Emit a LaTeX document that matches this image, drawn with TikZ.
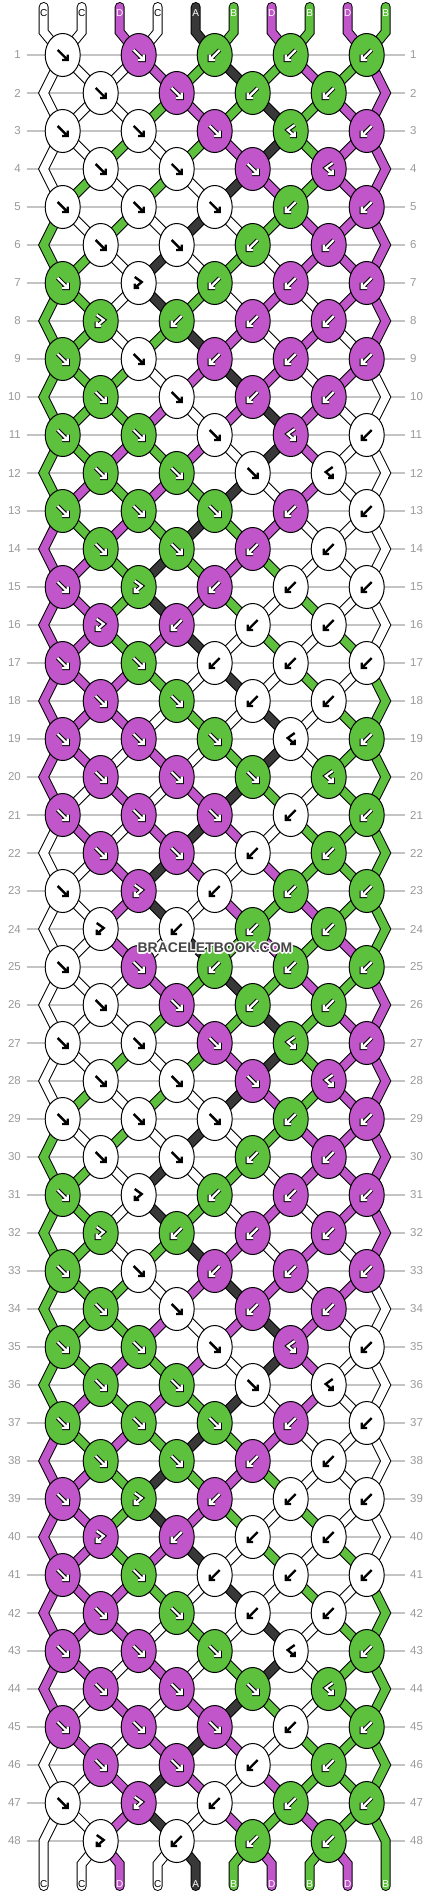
\documentclass[tikz,border=0pt]{standalone}
\usepackage{fontspec}
\setmainfont{Liberation Sans}
\usetikzlibrary{shapes.geometric}

\definecolor{strA}{HTML}{383838}
\definecolor{strB}{HTML}{5EC13D}
\definecolor{strC}{HTML}{FFFFFF}
\definecolor{strD}{HTML}{C056C9}
\colorlet{txtA}{white}
\colorlet{txtB}{white}
\colorlet{txtC}{black}
\colorlet{txtD}{white}
\definecolor{rowgray}{HTML}{C4C4C4}
\definecolor{numgray}{HTML}{9A9A9A}
\definecolor{markgray}{HTML}{464646}

\tikzset{
  knot/.style={ellipse, draw=black, line width=1pt, minimum width=35pt,
    minimum height=43pt, inner sep=0pt},
  thread rim/.style={draw=black, line width=10pt, line cap=round, line join=miter},
  thread core/.style={draw=#1, line width=8pt, line cap=round, line join=miter},
  arrow dark/.style={draw=black, line width=2.4pt, line cap=square, line join=miter},
  arrow rim/.style={draw=black, line width=4.2pt, line cap=square, line join=miter},
  arrow light/.style={draw=white, line width=2.2pt, line cap=square, line join=miter},
  strand tag/.style={font=\fontsize{10}{10}\selectfont, inner sep=0pt, text=txt#1},
  rownum/.style={font=\fontsize{11.5}{12}\selectfont, text=numgray, inner sep=0pt},
  rowline/.style={draw=rowgray, line width=1.2pt},
  mark font/.style={font=\bfseries\fontsize{14}{14}\selectfont, inner sep=0pt}
}

% colour and path source of every strand position
\newcommand\setcol[2]{\expandafter\xdef\csname thcol#1\endcsname{#2}}
\newcommand\getcol[1]{\csname thcol#1\endcsname}
\newcommand\setsrc[2]{\expandafter\xdef\csname thsrc#1\endcsname{#2}}
\newcommand\getsrc[1]{\csname thsrc#1\endcsname}

\newcommand\drawthread[2]{%
  \draw[thread rim] #2;
  \draw[thread core=str#1] #2;}

% knot types of the eight repeating rows
% F forward, B backward, Y forward-backward, X backward-forward
\def\rowtypes{1/{F,F,B,B,B},2/{F,F,B,B},3/{F,F,F,X,B},4/{F,F,F,X},
  5/{F,F,F,B,B},6/{F,F,B,B},7/{F,Y,B,B,B},8/{Y,B,B,B}}

\def\arrF{(-5,-5) -- (5,5) (5,-0.5) -- (5,5) -- (-0.5,5)}
\def\arrB{(5,-5) -- (-5,5) (-5,-0.5) -- (-5,5) -- (0.5,5)}
\def\arrY{(-4,-6) -- (3,-1) -- (-4,5) (-4,0.5) -- (-4,5) -- (0.5,5)}
\def\arrX{(4,-6) -- (-3,-1) -- (4,5) (4,0.5) -- (4,5) -- (-0.5,5)}

\newcommand\knotarrow[3]{%
  \edef\apath{\csname arr#1\endcsname}%
  \if#2C%
    \edef\tmp{\noexpand\draw[arrow dark, shift={(#3)}] \apath;}\tmp
  \else
    \edef\tmp{\noexpand\draw[arrow rim, shift={(#3)}] \apath;
      \noexpand\draw[arrow light, shift={(#3)}] \apath;}\tmp
  \fi}

\begin{document}
\begin{tikzpicture}[x=1pt, y=-1pt]
\useasboundingbox (0,0) rectangle (430,1896);
\fill[white] (0,0) rectangle (430,1896);

% row numbers and guide lines
\foreach \rw in {1,...,48}{
  \pgfmathsetmacro\yy{55+38*(\rw-1)}
  \node[rownum, anchor=east] (numL-\rw) at (21,\yy) {\rw};
  \node[rownum, anchor=west] (numR-\rw) at (410,\yy) {\rw};
  \draw[rowline] ([xshift=5.7pt]numL-\rw.east) -- ([xshift=-5pt]numR-\rw.west);
}

% strands at the top
\foreach \p/\tagc in {1/C,2/C,3/D,4/C,5/A,6/B,7/D,8/B,9/D,10/B}{
  \pgfmathsetmacro\xx{43.7+38*(\p-1)}
  \coordinate (top-\p) at (\xx,7);
  \coordinate (bend-\p) at (\xx,32);
  \setcol{\p}{\tagc}
  \setsrc{\p}{(top-\p) -- (bend-\p)}
}

% first pass: follow the strands, draw the threads
\foreach \rep in {0,...,5}{
  \foreach \m/\tlist in \rowtypes {
    \pgfmathtruncatemacro\rw{8*\rep+\m}
    \pgfmathtruncatemacro\off{1-mod(\m,2)}
    \pgfmathsetmacro\yy{55+38*(\rw-1)}
    \ifnum\off=1
      \coordinate (eL-\rw) at (43.7,\yy);
      \coordinate (eR-\rw) at (385.7,\yy);
      \setsrc{1}{\getsrc{1} -- (eL-\rw)}
      \setsrc{10}{\getsrc{10} -- (eR-\rw)}
    \fi
    \foreach \kt [count=\kk] in \tlist {
      \pgfmathtruncatemacro\pl{2*\kk-1+\off}
      \pgfmathtruncatemacro\pr{\pl+1}
      \pgfmathsetmacro\xx{62.7+38*(\pl-1)}
      \coordinate (kn-\rw-\kk) at (\xx,\yy);
      \edef\lc{\getcol{\pl}}\edef\rc{\getcol{\pr}}
      \if\kt F\edef\kc{\lc}\setcol{\pl}{\rc}\setcol{\pr}{\lc}\fi
      \if\kt B\edef\kc{\rc}\setcol{\pl}{\rc}\setcol{\pr}{\lc}\fi
      \if\kt X\edef\kc{\rc}\fi
      \if\kt Y\edef\kc{\lc}\fi
      \expandafter\xdef\csname kcol-\rw-\kk\endcsname{\kc}
      \edef\tmp{\noexpand\drawthread{\lc}{\getsrc{\pl} -- (kn-\rw-\kk)}%
        \noexpand\drawthread{\rc}{\getsrc{\pr} -- (kn-\rw-\kk)}}\tmp
      \setsrc{\pl}{(kn-\rw-\kk)}
      \setsrc{\pr}{(kn-\rw-\kk)}
    }
  }
}

% strands at the bottom
\foreach \p in {1,...,10}{
  \pgfmathsetmacro\xx{43.7+38*(\p-1)}
  \coordinate (heel-\p) at (\xx,1864);
  \coordinate (foot-\p) at (\xx,1886);
  \edef\lc{\getcol{\p}}
  \ifnum\p=1
    \edef\tmp{\noexpand\drawthread{\lc}{\getsrc{\p} -- (foot-\p)}}
  \else\ifnum\p=10
    \edef\tmp{\noexpand\drawthread{\lc}{\getsrc{\p} -- (foot-\p)}}
  \else
    \edef\tmp{\noexpand\drawthread{\lc}{\getsrc{\p} -- (heel-\p) -- (foot-\p)}}
  \fi\fi
  \tmp
  \node[strand tag=\lc] (end-\p) at (\xx,1884) {\lc};
}
\foreach \p/\tagc in {1/C,2/C,3/D,4/C,5/A,6/B,7/D,8/B,9/D,10/B}
  \node[strand tag=\tagc] (tag-\p) at ([yshift=-6pt]top-\p) {\tagc};

% second pass: the knots on top
\foreach \rep in {0,...,5}{
  \foreach \m/\tlist in \rowtypes {
    \pgfmathtruncatemacro\rw{8*\rep+\m}
    \foreach \kt [count=\kk] in \tlist {
      \edef\kc{\csname kcol-\rw-\kk\endcsname}
      \node[knot, fill=str\kc] (knot-\rw-\kk) at (kn-\rw-\kk) {};
      \knotarrow{\kt}{\kc}{kn-\rw-\kk}
    }
  }
}

% watermark
\foreach \dx/\dy [count=\i] in {-1.3/0,1.3/0,0/-1.3,0/1.3,-1/-1,1/1,-1/1,1/-1}{
  \node[mark font, text=white] (halo-\i) at (215+\dx,948+\dy) {BRACELETBOOK.COM};
}
\node[mark font, text=markgray] (mark) at (215,948) {BRACELETBOOK.COM};
\end{tikzpicture}
\end{document}
